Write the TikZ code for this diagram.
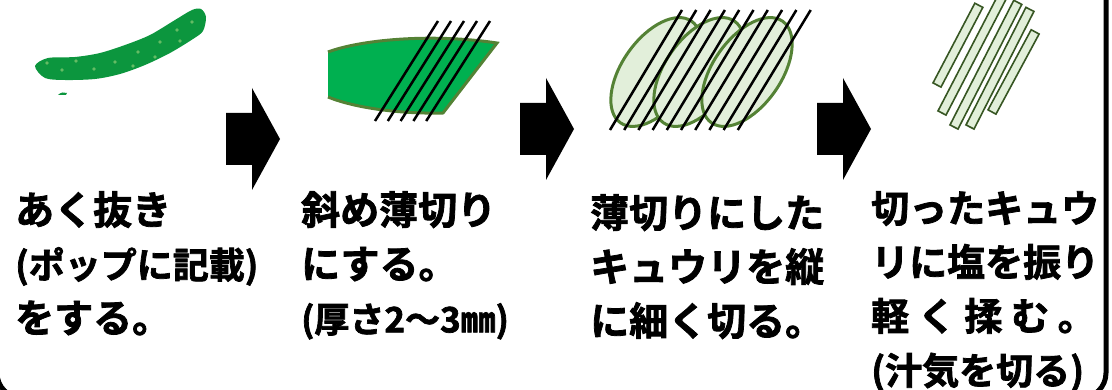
\documentclass[tikz,border=0pt]{standalone}
\usepackage{fontspec}
\newfontfamily\jpfont{Noto Sans CJK JP}[BoldFont={* Bold}, BoldFeatures={FakeBold=2}]

\definecolor{cukegreen}{RGB}{12,150,62}
\definecolor{dotgreen}{RGB}{100,188,100}
\definecolor{slicegreen}{RGB}{0,176,80}
\definecolor{leafedge}{RGB}{84,130,53}
\definecolor{stripedge}{RGB}{55,86,35}
\definecolor{paleleaf}{RGB}{226,239,218}

\tikzset{
  stepnote/.style={anchor=north west, inner sep=0pt, align=left,
    font=\jpfont\bfseries\fontsize{39pt}{54pt}\selectfont},
  cutline/.style={line width=2.5pt},
  leaf/.style={fill=paleleaf, draw=leafedge, line width=3pt},
  strip/.style={fill=paleleaf, draw=stripedge, line width=1.6pt},
  blockarrow/.pic={
    \fill (0,-26) -- (26,-26) -- (26,-51) -- (54,0) -- (26,51) -- (26,26) -- (0,26) -- cycle;
  }
}

\begin{document}
\begin{tikzpicture}[x=1pt, y=-1pt]
    \useasboundingbox (0,0) rectangle (1112,390);

    % Frame
    \draw[line width=5pt, rounded corners=25pt] (-3,-40) rectangle (1106,398);

    % Whole cucumber
    \fill[cukegreen] plot[smooth cycle] coordinates {(35,66) (48,58) (75,57) (100,53) (125,45)
        (150,35) (175,20) (192,10) (201,9) (206,17) (203,31) (193,39) (170,53) (145,65)
        (120,74) (95,79) (65,80) (45,78)};
    \foreach \p in {(47,63),(62,70),(76,61),(94,69),(115,62),(133,66),(138,52),
                    (155,57),(160,42),(177,30),(180,41),(192,22)}
        \fill[dotgreen] \p circle (1.8pt);
    \fill[cukegreen] (58,95) .. controls (61,92) and (64,92) .. (67,93) -- (66,95) -- cycle;

    % Diagonal slice
    \fill[slicegreen] (328,52) .. controls (360,40) and (430,33) .. (497,43)
        -- (443,113) .. controls (400,114) and (355,108) .. (328,97) -- cycle;
    \draw[leafedge, line width=3pt] (328,52) .. controls (360,40) and (430,33) .. (497,43)
        -- (443,113) .. controls (400,114) and (355,108) .. (328,97);
    \foreach \i in {0,...,4}
        \draw[cutline] (375+12.8*\i,121) -- (438+13*\i,21);

    % Thin slices, cut lengthwise
    \foreach \c in {(656,72),(699,72),(747,72)}
        \draw[leaf, rotate around={55:\c}] \c ellipse [x radius=62pt, y radius=34pt];
    \foreach \i in {0,...,9}
        \draw[cutline] (610+14.2*\i,130) -- (682+14.3*\i,10);

    % Strips
    \foreach \x/\y/\a/\l in {937/85/62.3/90, 942/113/62.6/130, 954/127/62.9/140,
                             970/127/63/132, 992/112/61.7/91}
        \draw[strip, shift={(\x,\y)}, rotate=\a] (0,-4.5) rectangle (\l,4.5);

    % Arrows
    \pic at (226,139) {blockarrow};
    \pic at (520,129) {blockarrow};
    \pic at (817,129) {blockarrow};

    % Notes under each step
    \node[stepnote] (note1) at (15,191)
        {あく抜き\\{\fontsize{36pt}{54pt}\selectfont (ポップに記載)}\\をする。};
    \node[stepnote] (note2) at (301,191)
        {斜め薄切り\\にする。\\{\fontsize{35pt}{54pt}\selectfont (厚さ2～3㎜)}};
    \node[stepnote] (note3) at (590,194)
        {薄切りにした\\キュウリを縦\\に細く切る。};
    \node[stepnote, font=\jpfont\bfseries\fontsize{38pt}{54pt}\selectfont] (note4) at (871,191)
        {切ったキュウ\\リに塩を振り\\軽 く 揉 む 。\\{\fontsize{37pt}{54pt}\selectfont (汁気を切る)}};
\end{tikzpicture}
\end{document}
